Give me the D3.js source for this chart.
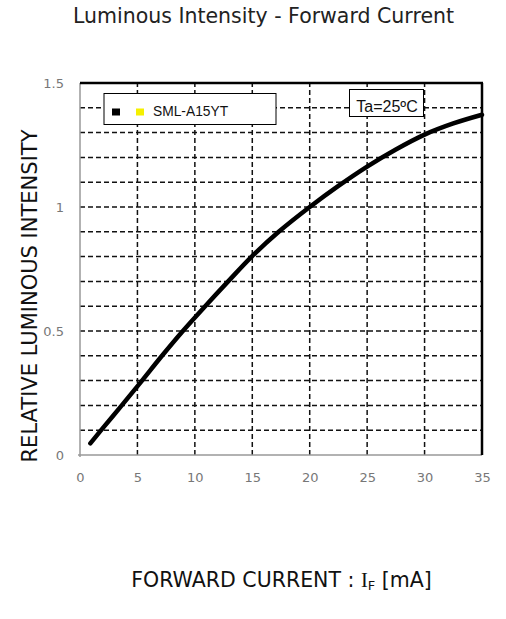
<!DOCTYPE html>
<html><head><meta charset="utf-8">
<script src="https://cdn.jsdelivr.net/npm/d3@7"></script>
<style>body{margin:0;background:#fff}svg{display:block}</style>
</head><body>
<script>
const currentMA = [0.9, 1.75, 3.6, 5.35, 7.05, 8.9, 10.9, 12.9, 14.95, 17.3, 20, 22.5, 25, 27.5, 30, 32.5, 35];
const relIntensity = [0.047, 0.095, 0.198, 0.297, 0.395, 0.497, 0.6, 0.7, 0.8, 0.9, 1.0, 1.085, 1.163, 1.232, 1.292, 1.337, 1.372];
const xTicks = [0, 5, 10, 15, 20, 25, 30, 35];
const yTicks = [0, 0.5, 1, 1.5];
const yGrid = [0.1,0.2,0.3,0.4,0.5,0.6,0.7,0.8,0.9,1.0,1.1,1.2,1.3,1.4];
const xGrid = [5,10,15,20,25,30];
const seriesName = "SML-A15YT";
const condition = "Ta=25ºC";

const W = 506, H = 619;
const m = {l: 80, r: 24, t: 83, b: 164};
const svg = d3.select("body").append("svg").attr("width", W).attr("height", H);
const x = d3.scaleLinear().domain([0, 35]).range([m.l, W - m.r]);
const y = d3.scaleLinear().domain([0, 1.5]).range([H - m.b, m.t]);
const font = "'DejaVu Sans', Verdana, sans-serif";
const arial = "'Liberation Sans', Arial, sans-serif";

// title
svg.append("text").attr("x", 263.5).attr("y", 23).attr("text-anchor", "middle")
  .attr("font-family", font).attr("font-size", 20.5).attr("fill", "#222")
  .text("Luminous Intensity - Forward Current");

// grid
const g = svg.append("g");
g.selectAll(".hg").data(yGrid).join("line")
  .attr("x1", x(0)).attr("x2", x(35)).attr("y1", d => y(d)).attr("y2", d => y(d))
  .attr("stroke", "#111").attr("stroke-width", 1.5).attr("stroke-dasharray", "5,3");
g.selectAll(".vg").data(xGrid).join("line")
  .attr("y1", y(0)).attr("y2", y(1.5)).attr("x1", d => x(d)).attr("x2", d => x(d))
  .attr("stroke", "#111").attr("stroke-width", 1.5).attr("stroke-dasharray", "5,3");

// borders
svg.append("line").attr("x1", x(0)).attr("x2", x(0)).attr("y1", y(1.5)).attr("y2", y(0) + 2)
  .attr("stroke", "#999").attr("stroke-width", 1.5);
svg.append("line").attr("x1", x(0) - 2).attr("x2", x(35)).attr("y1", y(0)).attr("y2", y(0))
  .attr("stroke", "#999").attr("stroke-width", 1.5);
svg.append("line").attr("x1", x(0)).attr("x2", x(35) + 1).attr("y1", y(1.5)).attr("y2", y(1.5))
  .attr("stroke", "#000").attr("stroke-width", 2.5);
svg.append("line").attr("x1", x(35)).attr("x2", x(35)).attr("y1", y(1.5)).attr("y2", y(0))
  .attr("stroke", "#000").attr("stroke-width", 2.5);

// axes labels
const xAxis = d3.axisBottom(x).tickValues(xTicks).tickSize(0).tickPadding(18);
const xa = svg.append("g").attr("transform", `translate(0,${y(0)})`).call(xAxis);
xa.select(".domain").remove();
xa.selectAll("text").attr("font-family", font).attr("font-size", 13).attr("fill", "#777");
const yAxis = d3.axisLeft(y).tickValues(yTicks).tickSize(0).tickPadding(16).tickFormat(d3.format("~g"));
const ya = svg.append("g").attr("transform", `translate(${x(0)},0)`).call(yAxis);
ya.select(".domain").remove();
ya.selectAll("text").attr("font-family", font).attr("font-size", 13).attr("fill", "#777");

// curve
const line = d3.line().x((d, i) => x(currentMA[i])).y(d => y(d)).curve(d3.curveCatmullRom.alpha(0.5));
svg.append("path").datum(relIntensity).attr("d", line).attr("fill", "none")
  .attr("stroke", "#000").attr("stroke-width", 4.5).attr("stroke-linecap", "round");

// legend
const lg = svg.append("g");
lg.append("rect").attr("x", 104).attr("y", 93.5).attr("width", 172).attr("height", 31)
  .attr("fill", "#fff").attr("stroke", "#000").attr("stroke-width", 1);
lg.append("rect").attr("x", 112).attr("y", 108.5).attr("width", 8).attr("height", 7).attr("fill", "#000");
lg.append("rect").attr("x", 136).attr("y", 108.5).attr("width", 8).attr("height", 7).attr("fill", "#f5f000");
lg.append("text").attr("x", 153).attr("y", 116.3).attr("font-family", arial)
  .attr("font-size", 13.8).attr("fill", "#111").text(seriesName);

// condition box
svg.append("rect").attr("x", 349.5).attr("y", 89.5).attr("width", 74).attr("height", 27)
  .attr("fill", "#fff").attr("stroke", "#000").attr("stroke-width", 1);
svg.append("text").attr("x", 387).attr("y", 112).attr("text-anchor", "middle")
  .attr("font-family", arial).attr("font-size", 16).attr("fill", "#111")
  .text(condition);

// axis titles
svg.append("text").attr("transform", "translate(37,296) rotate(-90)").attr("text-anchor", "middle")
  .attr("font-family", font).attr("font-size", 21).attr("fill", "#111")
  .text("RELATIVE LUMINOUS INTENSITY");
const xt = svg.append("text").attr("x", 281.5).attr("y", 587).attr("text-anchor", "middle")
  .attr("font-family", font).attr("font-size", 20.5).attr("fill", "#111");
xt.append("tspan").text("FORWARD CURRENT : ");
xt.append("tspan").attr("font-family", "'Liberation Serif', serif").text("I");
xt.append("tspan").attr("font-size", 13).attr("dy", 3).text("F");
xt.append("tspan").attr("dy", -3).text(" [mA]");
</script>
</body></html>
